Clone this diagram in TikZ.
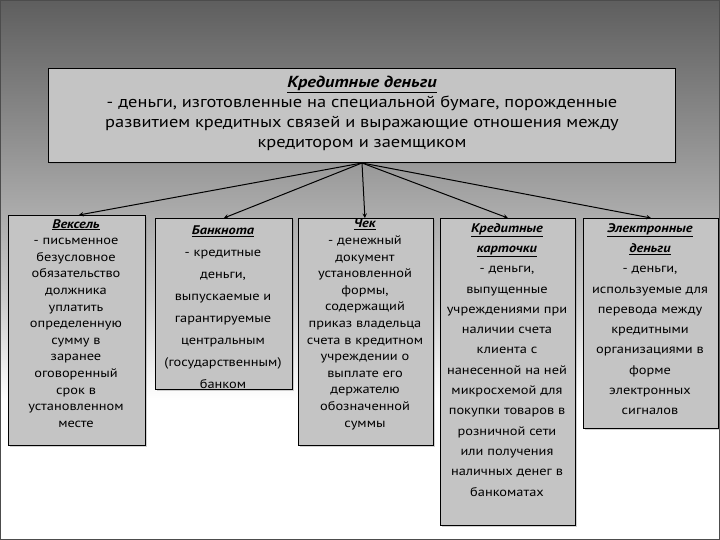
\documentclass[tikz,border=0pt]{standalone}
\usepackage{fontspec}
\setmainfont[FakeStretch=1.15]{PT Sans}
\usetikzlibrary{shadows}
\definecolor{boxgray}{HTML}{C4C4C4}
\tikzset{
  box/.style={draw=black, fill=boxgray, line width=0.8pt, drop shadow={opacity=0.35, shadow xshift=2pt, shadow yshift=-2pt}, anchor=north west, inner sep=0pt},
  txt/.style={anchor=north, align=center, inner sep=0pt},
  arr/.style={-stealth, line width=1pt, black}
}
\newcommand{\ttl}[1]{\underline{\textit{\textbf{#1}}}}
\begin{document}
\begin{tikzpicture}[x=1pt,y=-1pt]
\shade[top color=black!63, bottom color=black!42, shading angle=0] (0,0) rectangle (720,150.5);
\shade[top color=black!42, bottom color=black!20] (0,150) rectangle (720,300.5);
\shade[top color=black!20, bottom color=white] (0,300) rectangle (720,400.5);
\fill[white] (0,400) rectangle (720,540);
\draw[line width=1pt, black!70] (0.5,0.5) rectangle (719.5,539.5);
\useasboundingbox (0,0) rectangle (720,540);
% top box
\node[box, minimum width=627pt, minimum height=94pt] (top) at (48,68) {};
\node[txt, font=\fontsize{16}{20}\selectfont] (toptxt) at (362,76) {\ttl{Кредитные деньги}\\- деньги, изготовленные на специальной бумаге, порожденные\\развитием кредитных связей и выражающие отношения между\\кредитором и заемщиком};
\coordinate (src) at (362,163);
% boxes
\node[box, minimum width=137pt, minimum height=230pt] (b1) at (8,215) {};
\node[box, minimum width=137pt, minimum height=171pt] (b2) at (155,218) {};
\node[box, minimum width=135pt, minimum height=227pt] (b3) at (298,218) {};
\node[box, minimum width=135pt, minimum height=307pt] (b4) at (440,218) {};
\node[box, minimum width=135pt, minimum height=210pt] (b5) at (583,218) {};
\node[txt, font=\fontsize{12.5}{16.6}\selectfont] (t1) at (76,219) {\ttl{Вексель}\\- письменное\\безусловное\\обязательство\\должника\\уплатить\\определенную\\сумму в\\заранее\\оговоренный\\срок в\\установленном\\месте};
\node[txt, font=\fontsize{12.5}{22}\selectfont] (t2) at (223,226) {\ttl{Банкнота}\\- кредитные\\деньги,\\выпускаемые и\\гарантируемые\\центральным\\(государственным)\\банком};
\node[txt, font=\fontsize{12.5}{16.6}\selectfont] (t3) at (365,219) {\ttl{Чек}\\- денежный\\документ\\установленной\\формы,\\содержащий\\приказ владельца\\счета в кредитном\\учреждении о\\выплате его\\держателю\\обозначенной\\суммы};
\node[txt, font=\fontsize{12.5}{20.3}\selectfont] (t4) at (507,223) {\ttl{Кредитные}\\\ttl{карточки}\\- деньги,\\выпущенные\\учреждениями при\\наличии счета\\клиента с\\нанесенной на ней\\микросхемой для\\покупки товаров в\\розничной сети\\или получения\\наличных денег в\\банкоматах};
\node[txt, font=\fontsize{12.5}{20.3}\selectfont] (t5) at (650,223) {\ttl{Электронные}\\\ttl{деньги}\\- деньги,\\используемые для\\перевода между\\кредитными\\организациями в\\форме\\электронных\\сигналов};
% arrows
\draw[arr] (src) -- ([xshift=2pt]b1.north);
\draw[arr] (src) -- (b2.north);
\draw[arr] (src) -- ([xshift=-1pt]b3.north);
\draw[arr] (src) -- (b4.north);
\draw[arr] (src) -- (b5.north);
\end{tikzpicture}
\end{document}
